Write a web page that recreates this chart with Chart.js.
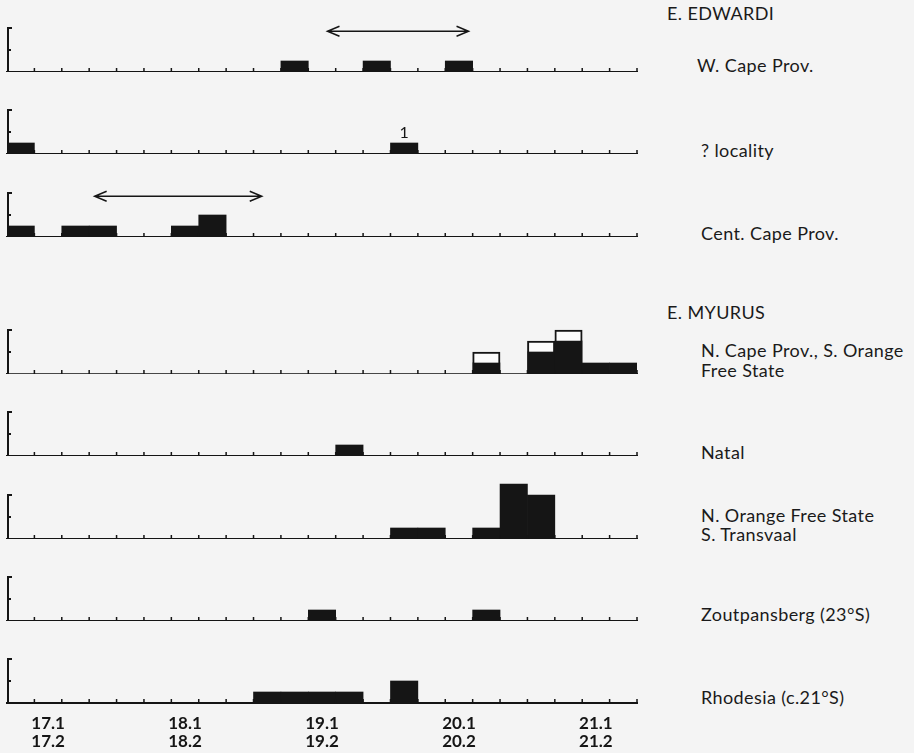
<!DOCTYPE html>
<html>
<head>
<meta charset="utf-8">
<script src="https://cdn.jsdelivr.net/npm/chart.js@4.4.0/dist/chart.umd.min.js"></script>
<style>
  html, body { margin: 0; padding: 0; background: #f4f4f4; }
  body { width: 914px; height: 753px; position: relative; overflow: hidden;
         font-family: Lato, "Open Sans", sans-serif; color: #1a1a1a; }
  canvas { position: absolute; left: 0; }
  .lbl { position: absolute; font-size: 18px; line-height: 20px; white-space: nowrap; letter-spacing: 0.4px; }
  .head { left: 667px; }
  .sub { left: 701px; }
</style>
</head>
<body>

<div class="lbl head" style="top:3px">E. EDWARDI</div>
<div class="lbl sub" style="top:55px;left:697px">W. Cape Prov.</div>
<div class="lbl sub" style="top:140px">? locality</div>
<div class="lbl sub" style="top:223px">Cent. Cape Prov.</div>
<div class="lbl head" style="top:302px">E. MYURUS</div>
<div class="lbl sub" style="top:340px">N. Cape Prov., S. Orange<br>Free State</div>
<div class="lbl sub" style="top:442px">Natal</div>
<div class="lbl sub" style="top:506px;line-height:19px">N. Orange Free State<br>S. Transvaal</div>
<div class="lbl sub" style="top:604px">Zoutpansberg (23°S)</div>
<div class="lbl sub" style="top:687px">Rhodesia (c.21°S)</div>

<script>
// class intervals (lower bound of each 0.2 class)
const bins = ['16.9', '17.1', '17.3', '17.5', '17.7', '17.9', '18.1', '18.3', '18.5', '18.7', '18.9', '19.1',
              '19.3', '19.5', '19.7', '19.9', '20.1', '20.3', '20.5', '20.7', '20.9', '21.1', '21.3'];
const tickBins = ['17.1', '18.1', '19.1', '20.1', '21.1'];
const tickSecond = ['17.2', '18.2', '19.2', '20.2', '21.2'];

// counts per class
const wCape       = [0,0,0,0,0,0,0,0,0,0,1,0,0,1,0,0,1,0,0,0,0,0,0];
const unknownLoc  = [1,0,0,0,0,0,0,0,0,0,0,0,0,0,1,0,0,0,0,0,0,0,0];
const centCape    = [1,0,1,1,0,0,1,2,0,0,0,0,0,0,0,0,0,0,0,0,0,0,0];
const nCapeSolid  = [0,0,0,0,0,0,0,0,0,0,0,0,0,0,0,0,0,1,0,2,3,1,1];
const nCapeOpen   = [0,0,0,0,0,0,0,0,0,0,0,0,0,0,0,0,0,1,0,1,1,0,0];
const natal       = [0,0,0,0,0,0,0,0,0,0,0,0,1,0,0,0,0,0,0,0,0,0,0];
const nOrange     = [0,0,0,0,0,0,0,0,0,0,0,0,0,0,1,1,0,1,5,4,0,0,0];
const zoutpansberg= [0,0,0,0,0,0,0,0,0,0,0,1,0,0,0,0,0,1,0,0,0,0,0];
const rhodesia    = [0,0,0,0,0,0,0,0,0,1,1,1,1,0,2,0,0,0,0,0,0,0,0];

// ranges marked with arrows (measurement units)
const wCapeRange = [19.19, 20.22];
const centCapeRange = [17.49, 18.71];
const localityNote = { bin: '19.7', text: '1' };

const ink = '#151515';
const baselines = [72, 154, 237, 374, 456, 539, 621, 703];

// measurement value -> category index space (bin 1 spans 17.05..17.25)
function toIndex(v) { return (v - 17.05) / 0.2 + 0.5; }

const panelMarks = {
  id: 'panelMarks',
  afterDatasetsDraw(chart, args, opts) {
    const { ctx, chartArea, scales: { x, y } } = chart;
    const base = y.getPixelForValue(0);
    ctx.save();
    ctx.strokeStyle = ink;
    ctx.fillStyle = ink;

    // little bracket scale (0, 2, 4)
    ctx.lineWidth = 2;
    const x0 = chartArea.left + 1;
    ctx.beginPath();
    ctx.moveTo(x0, base);
    ctx.lineTo(x0, y.getPixelForValue(4));
    ctx.lineTo(x0 + 4, y.getPixelForValue(4));
    ctx.moveTo(x0, y.getPixelForValue(2));
    ctx.lineTo(x0 + 3, y.getPixelForValue(2));
    ctx.stroke();

    // class boundary ticks pointing up
    ctx.lineWidth = 1.5;
    ctx.beginPath();
    for (let i = 1; i <= bins.length; i++) {
      const px = x.getPixelForValue(i - 0.5);
      ctx.moveTo(px, base);
      ctx.lineTo(px, base - 4);
    }
    ctx.stroke();

    if (opts.range) {
      const ya = y.getPixelForValue(3.7);
      const xa = x.getPixelForValue(toIndex(opts.range[0]));
      const xb = x.getPixelForValue(toIndex(opts.range[1]));
      ctx.lineWidth = 1.5;
      ctx.beginPath();
      ctx.moveTo(xa, ya); ctx.lineTo(xb, ya);
      ctx.moveTo(xa + 12, ya - 5); ctx.lineTo(xa, ya); ctx.lineTo(xa + 12, ya + 5);
      ctx.moveTo(xb - 12, ya - 5); ctx.lineTo(xb, ya); ctx.lineTo(xb - 12, ya + 5);
      ctx.stroke();
    }

    if (opts.note) {
      const i = bins.indexOf(opts.note.bin);
      const v = chart.data.datasets[0].data[i];
      ctx.font = '16px Lato';
      ctx.textAlign = 'center';
      ctx.textBaseline = 'alphabetic';
      ctx.fillText(opts.note.text, x.getPixelForValue(i), y.getPixelForValue(v) - 5);
    }
    ctx.restore();
  }
};

const panels = [
  { sets: [wCape], range: wCapeRange },
  { sets: [unknownLoc], note: localityNote },
  { sets: [centCape], range: centCapeRange },
  { sets: [nCapeSolid, nCapeOpen] },
  { sets: [natal] },
  { sets: [nOrange] },
  { sets: [zoutpansberg] },
  { sets: [rhodesia] }
];

panels.forEach((p, k) => {
  const isLast = k === panels.length - 1;
  const axisH = isLast ? 48 : 0;
  const canvas = document.createElement('canvas');
  canvas.width = 650;
  canvas.height = 4 + 66 + axisH;
  canvas.style.width = '650px';
  canvas.style.height = canvas.height + 'px';
  canvas.style.top = (baselines[k] - 70) + 'px';
  document.body.appendChild(canvas);

  const datasets = p.sets.map((d, j) => ({
    data: d,
    backgroundColor: j === 0 ? ink : '#fbfbfb',
    borderColor: ink,
    borderWidth: j === 0 ? 0 : (c => c.raw ? 2 : 0),
    barPercentage: 1,
    categoryPercentage: 1
  }));

  new Chart(canvas, {
    type: 'bar',
    data: { labels: bins, datasets },
    options: {
      responsive: false,
      maintainAspectRatio: false,
      animation: false,
      layout: { padding: { left: 7, right: 13, top: 4, bottom: 0 } },
      plugins: {
        legend: { display: false },
        tooltip: { enabled: false },
        panelMarks: { range: p.range, note: p.note }
      },
      scales: {
        x: {
          stacked: true,
          grid: { display: false },
          border: { display: true, color: ink, width: 2 },
          ticks: {
            display: isLast,
            autoSkip: false,
            maxRotation: 0,
            padding: 3,
            color: ink,
            font: { family: 'Lato', size: 17, weight: 'bold', lineHeight: 1.09 },
            callback: (value, index) => {
              const t = tickBins.indexOf(bins[index]);
              return t < 0 ? '' : [tickBins[t], tickSecond[t]];
            }
          },
          afterFit: s => { s.height = axisH; }
        },
        y: { display: false, stacked: true, min: 0, max: 6 }
      }
    },
    plugins: [panelMarks]
  });
});
</script>
</body>
</html>
